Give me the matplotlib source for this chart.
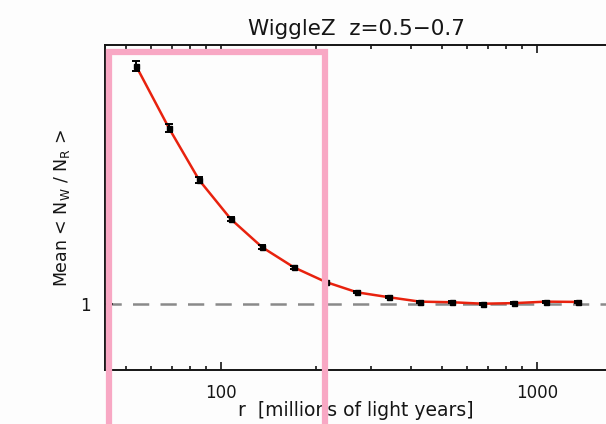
import numpy as np
import matplotlib
matplotlib.use("Agg")
import matplotlib.pyplot as plt
from matplotlib.patches import Rectangle
from matplotlib.ticker import FixedLocator, NullFormatter

# separation bins (millions of light years) and mean count ratio
r_mly = [54.0, 68.6, 85.5, 107.6, 135.4, 170.6, 215.0, 270.3, 340.9,
         427.2, 538.0, 677.6, 849.6, 1070.0, 1348.0]
ratio = [2.226, 1.806, 1.516, 1.330, 1.209, 1.130, 1.076, 1.039, 1.022,
         1.007, 1.005, 1.000, 1.002, 1.007, 1.006]
ratio_err = [0.038, 0.025, 0.016, 0.011, 0.008, 0.006, 0.005, 0.004, 0.004,
             0.003, 0.003, 0.003, 0.003, 0.003, 0.003]

x_ticks = [100, 1000]
x_ticklabels = ["100", "1000"]
x_minor = [50, 60, 70, 80, 90, 200, 300, 400, 500, 600, 700, 800, 900, 2000]

FONT = "DejaVu Sans"
INK = "#151515"

W, H = 606, 424
fig = plt.figure(figsize=(W / 100, H / 100), dpi=100)
fig.patch.set_facecolor("#fdfdfd")

ax = fig.add_axes([105 / W, (H - 370) / H, 505 / W, 325 / H])
ax.set_facecolor("#fdfdfd")
ax.set_xscale("log")
ax.set_yscale("log")
ax.set_xlim(43.05, 1706)
ax.set_ylim(0.8, 2.389)

ax.axhline(1.0, color="#8a8a8a", lw=1.8, dashes=(6.5, 4.5), zorder=1)
ax.plot(r_mly, ratio, color="#e8220e", lw=1.8, zorder=2)
ax.errorbar(r_mly, ratio, yerr=ratio_err, fmt="s", color="black",
            ms=3.6, capsize=2.6, elinewidth=1.4, capthick=1.4, zorder=3)

for s in ax.spines.values():
    s.set_linewidth(1.4)
    s.set_color(INK)
ax.spines["right"].set_visible(False)

ax.xaxis.set_major_locator(FixedLocator(x_ticks))
ax.xaxis.set_minor_locator(FixedLocator(x_minor))
ax.set_xticklabels(x_ticklabels)
ax.xaxis.set_minor_formatter(NullFormatter())
ax.yaxis.set_major_locator(FixedLocator([1]))
ax.yaxis.set_minor_locator(FixedLocator([]))
ax.set_yticklabels(["1"])
ax.yaxis.set_minor_formatter(NullFormatter())
ax.tick_params(which="both", direction="in", top=True, right=False,
               labelsize=12, width=1.2, colors=INK)
ax.tick_params(which="major", length=6, pad=10)
ax.tick_params(which="minor", length=3)
for lab in ax.get_xticklabels() + ax.get_yticklabels():
    lab.set_family(FONT)

fig.text(356 / W, 1 - 29 / H, "WiggleZ  z=0.5\u22120.7", ha="center", va="center",
         fontsize=15.5, family=FONT, color=INK)
fig.text(356 / W, 1 - 411 / H, "r  [millions of light years]", ha="center", va="center",
         fontsize=13.5, family=FONT, color=INK)
fig.text(62 / W, 1 - 208 / H, r"Mean < N$_\mathregular{W}$ / N$_\mathregular{R}$ >",
         ha="center", va="center", rotation=90, fontsize=12.5,
         family=FONT, color=INK)

# highlight box over the small-scale bins
fig.patches.append(Rectangle((109 / W, -40 / H), 216 / W, (H + 40 - 52) / H,
                             transform=fig.transFigure, fill=False,
                             edgecolor="#f8a8c4", lw=4.5, zorder=10))

fig.savefig("out.png", dpi=100, facecolor=fig.get_facecolor())
